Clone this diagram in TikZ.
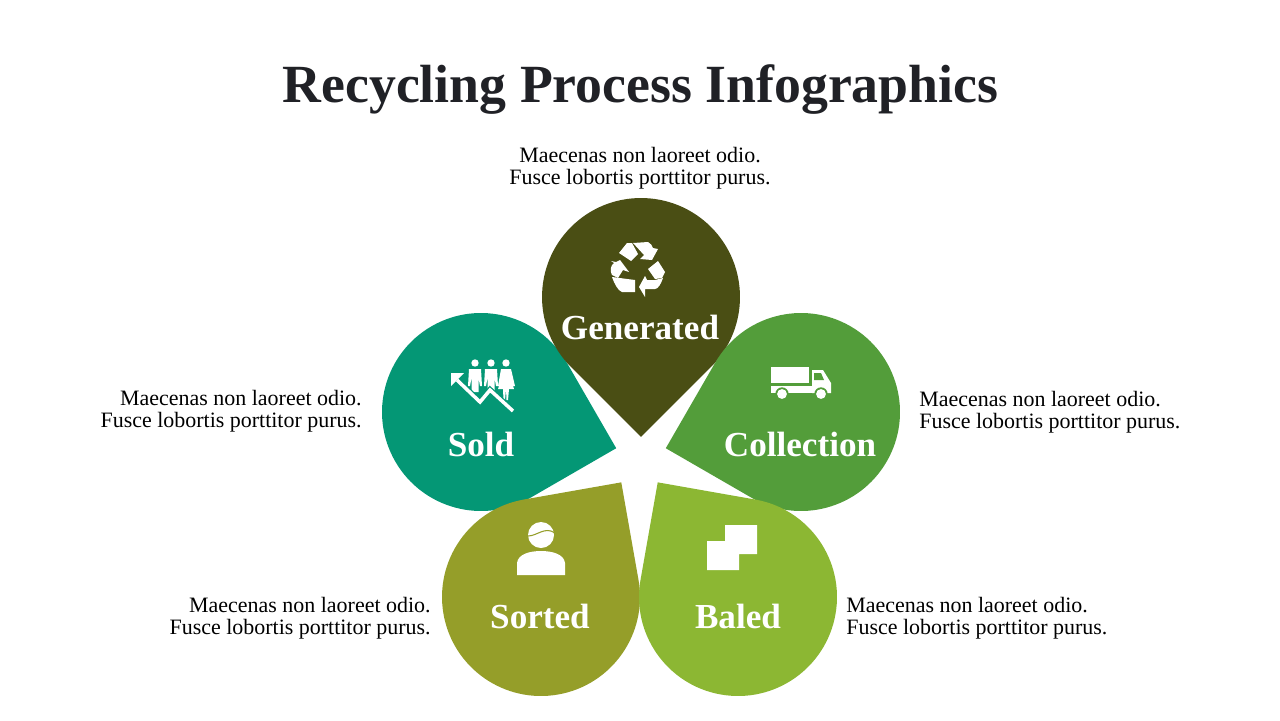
\documentclass[tikz,border=0pt]{standalone}
\usepackage{fontspec}
\setmainfont{Liberation Serif}

\newcommand{\petal}[3]{\fill[petalfill=#3,shift={(#1)}] (#2:2.8cm) -- (#2+45:1.98cm) arc (#2+45:#2+315:1.98cm) -- cycle;}

\definecolor{colGenerated}{HTML}{4A4E14}
\definecolor{colCollection}{HTML}{539D3A}
\definecolor{colBaled}{HTML}{8CB733}
\definecolor{colSorted}{HTML}{959E29}
\definecolor{colSold}{HTML}{049775}
\definecolor{colTitle}{HTML}{202126}

\begin{document}
\begin{tikzpicture}
        [x=0.02cm,
        y=-0.02cm,
        petalfill/.style={fill=#1},
        icon/.style={fill=white,draw=none},
        iconline/.style={draw=white,line width=2pt},
        iconhalo/.style={draw=colSold,line width=3.4pt},
        title/.style={text=colTitle,font=\fontsize{30.6}{34}\bfseries\selectfont,anchor=center,inner sep=0pt},
        step name/.style={text=white,font=\fontsize{20}{24}\bfseries\selectfont,anchor=center,inner sep=0pt},
        blurbL/.style={text=black,font=\fontsize{12.5}{12.5}\selectfont,align=right,anchor=east,inner sep=0pt},
        blurbR/.style={text=black,font=\fontsize{12.5}{12.5}\selectfont,align=left,anchor=west,inner sep=0pt},
        blurbC/.style={text=black,font=\fontsize{12.5}{12.5}\selectfont,align=center,anchor=center,inner sep=0pt}]
\useasboundingbox (0,0) rectangle (1280,720);
%%
%% Coordinate of the petal centres:
%%
\coordinate (Generated) at (641,297);
\coordinate (Collection) at (801,412);
\coordinate (Baled) at (738,597);
\coordinate (Sorted) at (541,597);
\coordinate (Sold) at (481,412);
%%
%% Drawing the petals
%%
\petal{Sold}{-15}{colSold}
\petal{Generated}{-90}{colGenerated}
\petal{Collection}{195}{colCollection}
\petal{Sorted}{55}{colSorted}
\petal{Baled}{125}{colBaled}
%%
%% Drawing the title and the texts
%%
\node[title] (titleText) at (640.5,90) {Recycling Process Infographics};

\node[step name] (generatedName) at (640,327) {Generated};
\node[step name] (collectionName) at (800,444) {Collection};
\node[step name] (baledName) at (738,616) {Baled};
\node[step name] (sortedName) at (540,616) {Sorted};
\node[step name] (soldName) at (481,444) {Sold};

\node[blurbC] (generatedText) at (640,168) {Maecenas non laoreet odio.\\[0pt]Fusce lobortis porttitor purus.};
\node[blurbR] (collectionText) at (919,412) {Maecenas non laoreet odio.\\[0pt]Fusce lobortis porttitor purus.};
\node[blurbR] (baledText) at (846,618) {Maecenas non laoreet odio.\\[0pt]Fusce lobortis porttitor purus.};
\node[blurbL] (sortedText) at (431,618) {Maecenas non laoreet odio.\\[0pt]Fusce lobortis porttitor purus.};
\node[blurbL] (soldText) at (362,411) {Maecenas non laoreet odio.\\[0pt]Fusce lobortis porttitor purus.};
%%
%% Drawing the recycling icon
%%
\fill[icon] (619,253) -- (627,243) -- (632,243) -- (638,254) -- (631,261) -- cycle;
\fill[icon] (633,243) -- (648,242) .. controls (651,243) and (652,246) .. (653,248) -- (658,249) -- (652,260) -- (640,259) -- (644,255) -- cycle;
\fill[icon] (648,269) -- (658,261) -- (665,272) -- (662,278) -- (655,279) -- cycle;
\fill[icon] (663,278) .. controls (661,284) and (658,289) .. (655,289) -- (645,289) -- (645,297) -- (639,287) -- (645,276) -- (647,280) -- (655,280) -- cycle;
\fill[icon] (612,277) -- (635,280) -- (635,292) -- (622,292) .. controls (618,291) and (614,283) .. (612,277) -- cycle;
\fill[icon] (611,261) -- (616,262) -- (620,260) -- (629,272) -- (623,270) -- (618,278) -- (612,275) .. controls (610,271) and (610,266) .. (614,263) -- cycle;
%%
%% Drawing the people icon
%%
\foreach \px in {475,491}
{
\fill[icon] (\px,363) circle (2.1pt);
\fill[icon] (\px-7,386) -- (\px-6,369) -- (\px+6,369) -- (\px+7,386) -- (\px+5,386) -- (\px+3.5,378) -- (\px+3.5,392) -- (\px-3.5,392) -- (\px-3.5,378) -- (\px-5,386) -- cycle;
}
\fill[icon] (506,363) circle (2.1pt);
\fill[icon] (498,386) -- (501,369) -- (511,369) -- (515,386) -- (513,386) -- (510,377) -- (514,389) -- (509,389) -- (508,400) -- (506.5,400) -- (506,389) -- (505,400) -- (503.5,400) -- (503,389) -- (498,389) -- (502,377) -- (500,386) -- cycle;
\draw[iconhalo] (457,380) -- (480,402) -- (490,390) -- (513,411);
\draw[iconline] (457,380) -- (480,402) -- (490,390) -- (513,411);
\fill[icon] (451,373) -- (464,373) -- (451,386) -- cycle;
%%
%% Drawing the truck icon
%%
\fill[icon] (771,367) rectangle (809,383);
\fill[icon] (771,386) rectangle (812,393);
\fill[icon] (812,370) -- (823,370) -- (831,383) -- (831,393) -- (812,393) -- cycle;
\fill[colCollection] (814,373) -- (821,373) -- (824,380) -- (814,380) -- cycle;
\foreach \wx in {782,821}
{
\fill[colCollection] (\wx,394) circle (3.8pt);
\fill[icon] (\wx,394) circle (2.8pt);
}
%%
%% Drawing the person icon
%%
\fill[icon] (517,575) -- (517,563) .. controls (518,554) and (530,551) .. (541,551) .. controls (552,551) and (564,554) .. (565,563) -- (565,575) -- cycle;
\fill[icon] (541,535) circle (7.4pt);
\draw[draw=colSorted,line width=0.6pt] (528,536) .. controls (537,536) and (545,526) .. (555,533);
%%
%% Drawing the bale icon
%%
\fill[icon] (707,541) -- (725,541) -- (725,525) -- (757,525) -- (757,554) -- (739,554) -- (739,570) -- (707,570) -- cycle;
\end{tikzpicture}
\end{document}
